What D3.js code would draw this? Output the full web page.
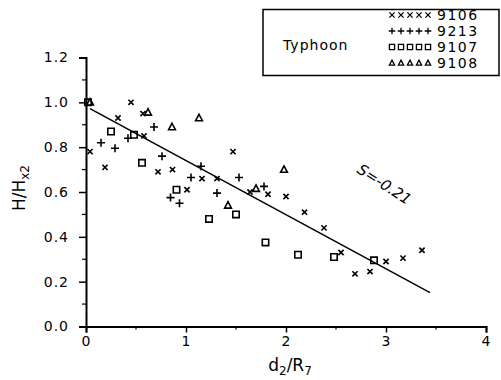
<!DOCTYPE html>
<html>
<head>
<meta charset="utf-8">
<script src="https://cdn.jsdelivr.net/npm/d3@7"></script>
<style>
  html, body { margin: 0; padding: 0; background: #fff; }
  svg { display: block; }
  text { font-family: "DejaVu Sans", "Liberation Sans", sans-serif; fill: #000; }
</style>
</head>
<body>
<svg id="chart" width="501" height="380"></svg>
<script>
// Typhoon 9106 (crosses)
const s9106 = [
  [0.45, 1.00], [0.32, 0.93], [0.57, 0.95], [0.58, 0.85], [0.04, 0.78],
  [0.19, 0.71], [0.72, 0.69], [0.865, 0.70], [1.01, 0.61], [1.16, 0.66],
  [1.31, 0.66], [1.47, 0.78], [1.64, 0.60], [1.82, 0.59], [2.00, 0.58],
  [2.185, 0.51], [2.38, 0.44], [2.55, 0.33], [2.69, 0.235], [2.84, 0.245],
  [3.00, 0.29], [3.17, 0.305], [3.36, 0.34]
];
// Typhoon 9213 (plus signs)
const s9213 = [
  [0.68, 0.89], [0.42, 0.84], [0.15, 0.82], [0.29, 0.795], [0.76, 0.76],
  [1.15, 0.715], [1.05, 0.665], [0.845, 0.575], [0.935, 0.55], [1.31, 0.595],
  [1.53, 0.665], [1.78, 0.625]
];
// Typhoon 9107 (squares)
const s9107 = [
  [0.02, 1.00], [0.25, 0.87], [0.48, 0.855], [0.56, 0.73], [0.905, 0.61],
  [1.23, 0.48], [1.50, 0.50], [1.795, 0.375], [2.12, 0.32], [2.48, 0.31],
  [2.88, 0.295]
];
// Typhoon 9108 (triangles)
const s9108 = [
  [0.04, 1.00], [0.62, 0.955], [0.86, 0.89], [1.13, 0.93], [1.42, 0.54],
  [1.70, 0.615], [1.98, 0.70]
];
// Fitted line end points (x, H/Hx2)
const fitLine = [[0.04, 0.972], [3.44, 0.151]];
const slopeLabel = "S=-0.21";

const xTicks = [0, 1, 2, 3, 4];
const xMinor = [0.5, 1.5, 2.5, 3.5];
const yTicks = [0.0, 0.2, 0.4, 0.6, 0.8, 1.0, 1.2];
const yMinor = [0.1, 0.3, 0.5, 0.7, 0.9, 1.1];

const legendTitle = "Typhoon";
const legendNames = ["9106", "9213", "9107", "9108"];
const legendShapes = ["times", "plus", "square", "triangle"];

const svg = d3.select("#chart");

const x = d3.scaleLinear().domain([0, 4]).range([86, 486]);
const y = d3.scaleLinear().domain([0, 1.2]).range([326.5, 57.5]);

// marker path generators, centred on 0,0
function markerPath(shape, r) {
  const p = d3.path();
  if (shape === "times") {
    p.moveTo(-r, -r); p.lineTo(r, r);
    p.moveTo(-r, r); p.lineTo(r, -r);
  } else if (shape === "plus") {
    p.moveTo(-r, 0); p.lineTo(r, 0);
    p.moveTo(0, -r); p.lineTo(0, r);
  } else if (shape === "square") {
    p.rect(-r, -r, 2 * r, 2 * r);
  } else if (shape === "triangle") {
    p.moveTo(0, -r * 1.1); p.lineTo(r, r * 0.8); p.lineTo(-r, r * 0.8); p.closePath();
  }
  return p.toString();
}
const markerSize = { times: 2.6, plus: 4, square: 3.2, triangle: 3.4 };

// axes
const yAxis = d3.axisLeft(y).tickValues(yTicks).tickFormat(d3.format(".1f"))
  .tickSize(7).tickPadding(10);
const gy = svg.append("g").attr("transform", `translate(${x(0)},0)`).call(yAxis);

const xAxis = d3.axisBottom(x).tickValues(xTicks).tickFormat(d3.format("d"))
  .tickSize(6).tickPadding(4);
const gx = svg.append("g").attr("transform", `translate(0,${y(0)})`).call(xAxis);

[gx, gy].forEach(g => {
  g.select(".domain").attr("stroke", "#000").attr("stroke-width", 2);
  g.selectAll(".tick line").attr("stroke", "#000").attr("stroke-width", 1.5);
  g.selectAll(".tick text").style("font-size", "14px").style("letter-spacing", "1px")
    .attr("fill", "#000");
});

// minor ticks
gy.selectAll(".minor").data(yMinor).join("line")
  .attr("class", "minor")
  .attr("x1", -4).attr("x2", 0)
  .attr("y1", d => y(d)).attr("y2", d => y(d))
  .attr("stroke", "#000").attr("stroke-width", 1.2);
gx.selectAll(".minor").data(xMinor).join("line")
  .attr("class", "minor")
  .attr("x1", d => x(d)).attr("x2", d => x(d))
  .attr("y1", 0).attr("y2", 3)
  .attr("stroke", "#000").attr("stroke-width", 1.2);

// axis titles
const yt = svg.append("text")
  .attr("transform", "translate(25,188) rotate(-90)")
  .attr("text-anchor", "middle")
  .style("font-size", "17px");
yt.append("tspan").text("H/H");
yt.append("tspan").attr("dy", 4).style("font-size", "12px").text("x2");

const xt = svg.append("text")
  .attr("x", 290).attr("y", 371)
  .attr("text-anchor", "middle")
  .style("font-size", "17px");
xt.append("tspan").text("d");
xt.append("tspan").attr("dy", 4).style("font-size", "12px").text("2");
xt.append("tspan").attr("dy", -4).text("/R");
xt.append("tspan").attr("dy", 4).style("font-size", "12px").text("7");

// fitted line
svg.append("line")
  .attr("x1", x(fitLine[0][0])).attr("y1", y(fitLine[0][1]))
  .attr("x2", x(fitLine[1][0])).attr("y2", y(fitLine[1][1]))
  .attr("stroke", "#000").attr("stroke-width", 1.5);

// slope annotation
svg.append("text")
  .attr("transform", "translate(356,172) rotate(33)")
  .style("font-size", "15px").style("font-style", "italic")
  .text(slopeLabel);

// scatter points
const seriesList = [s9106, s9213, s9107, s9108];
seriesList.forEach((data, i) => {
  const shape = legendShapes[i];
  svg.append("g").selectAll("path").data(data).join("path")
    .attr("transform", d => `translate(${x(d[0])},${y(d[1])})`)
    .attr("d", markerPath(shape, markerSize[shape]))
    .attr("fill", "none").attr("stroke", "#000").attr("stroke-width", 1.6);
});

// legend
const lg = svg.append("g");
lg.append("rect")
  .attr("x", 263).attr("y", 9.5).attr("width", 236).attr("height", 66)
  .attr("fill", "#fff").attr("stroke", "#000").attr("stroke-width", 1.5);
lg.append("text").attr("x", 283).attr("y", 50)
  .style("font-size", "14px").style("letter-spacing", "1px").text(legendTitle);
legendNames.forEach((name, i) => {
  const cy = 15 + i * 16;
  const shape = legendShapes[i];
  d3.range(5).forEach(k => {
    lg.append("path")
      .attr("transform", `translate(${392 + k * 9},${cy})`)
      .attr("d", markerPath(shape, shape === "plus" ? 3.3 : 2.6))
      .attr("fill", "none").attr("stroke", "#000").attr("stroke-width", 1.3);
  });
  lg.append("text").attr("x", 437).attr("y", cy + 5)
    .style("font-size", "14px").style("letter-spacing", "1.5px").text(name);
});
</script>
</body>
</html>
